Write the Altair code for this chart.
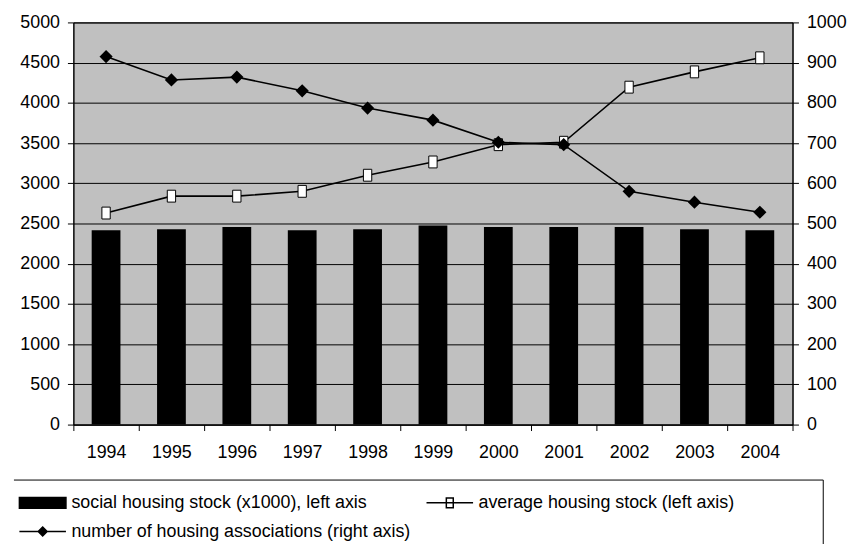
import altair as alt
import pandas as pd

# ---- data ----
years = ["1994", "1995", "1996", "1997", "1998", "1999", "2000", "2001", "2002", "2003", "2004"]
social_stock = [2415, 2430, 2455, 2415, 2430, 2475, 2455, 2455, 2455, 2430, 2415]
avg_stock = [2630, 2840, 2840, 2900, 3100, 3265, 3480, 3510, 4195, 4385, 4560]
num_assoc = [915, 857, 864, 830, 787, 757, 702, 696, 580, 553, 528]

series_names = [
    "social housing stock (x1000), left axis",
    "average housing stock (left axis)",
    "number of housing associations (right axis)",
]
left_ticks = list(range(0, 5001, 500))
right_ticks = list(range(0, 1001, 100))

df = pd.DataFrame({"year": years, "social": social_stock, "avg": avg_stock, "num": num_assoc})
legend_df = pd.DataFrame({"year": years[:3], "v": [0, 0, 0], "series": series_names})
box_df = pd.DataFrame({"k": [0]})

FONT = "Liberation Sans"

# legend symbols (custom paths)
legend_paths = [
    "M-2.35,-0.55H2.35V0.55H-2.35Z",
    "M-2.35,0H2.35M-0.35,-0.5H0.35V0.5H-0.35Z",
    "M-2.35,0H2.35M0,-0.45L0.45,0L0,0.45L-0.45,0Z",
]
legend_fills = ["black", "white", "black"]
legend_strokes = ["black", "black", "black"]

x_enc = alt.X(
    "year:N",
    sort=years,
    scale=alt.Scale(paddingInner=0, paddingOuter=0),
    axis=alt.Axis(title=None, labelAngle=0, tickBand="extent", labelPadding=13),
)

left_scale = alt.Scale(domain=[0, 5000], nice=False)
left_axis = alt.Axis(title=None, values=left_ticks, format="d", grid=True, gridColor="black",
                     gridWidth=1, labelPadding=8)
right_scale = alt.Scale(domain=[0, 1000], nice=False)
right_axis = alt.Axis(title=None, values=right_ticks, format="d", grid=False, orient="right",
                      labelPadding=8)

bars = alt.Chart(df).mark_bar(color="black", width=alt.RelativeBandSize(0.44)).encode(
    x=x_enc,
    y=alt.Y("social:Q", scale=left_scale, axis=left_axis),
)

avg_line = alt.Chart(df).mark_line(color="black", strokeWidth=1.6).encode(
    x=x_enc,
    y=alt.Y("avg:Q", scale=left_scale, axis=left_axis),
)
avg_pts = alt.Chart(df).mark_point(
    shape="M-0.7,-1H0.7V1H-0.7Z", size=144, filled=True, fill="white", stroke="black",
    strokeWidth=1, opacity=1,
).encode(
    x=x_enc,
    y=alt.Y("avg:Q", scale=left_scale, axis=left_axis),
)

legend_cfg = dict(
    orient="none", legendX=-42, legendY=474, direction="horizontal", columns=2,
    columnPadding=12, rowPadding=9, labelFont=FONT, labelFontSize=18, labelColor="black",
    labelLimit=700, labelOffset=18, symbolSize=400, symbolStrokeColor="black",
    symbolStrokeWidth=1.5, symbolOpacity=1,
)
legend_layer = alt.Chart(legend_df).mark_point(filled=True, opacity=0).encode(
    x=x_enc,
    y=alt.Y("v:Q", scale=left_scale, axis=left_axis),
    shape=alt.Shape("series:N", title=None,
                    scale=alt.Scale(domain=series_names, range=legend_paths),
                    legend=alt.Legend(**legend_cfg)),
    fill=alt.Fill("series:N", title=None,
                  scale=alt.Scale(domain=series_names, range=legend_fills),
                  legend=alt.Legend(**legend_cfg)),
    stroke=alt.Stroke("series:N", title=None,
                      scale=alt.Scale(domain=series_names, range=legend_strokes),
                      legend=alt.Legend(**legend_cfg)),
)

box_top = alt.Chart(box_df).mark_rule(color="black", strokeWidth=1).encode(
    x=alt.value(-60), x2=alt.value(757), y=alt.value(462)
)
box_right = alt.Chart(box_df).mark_rule(color="black", strokeWidth=1).encode(
    x=alt.value(757), y=alt.value(462), y2=alt.value(540)
)

left = alt.layer(bars, avg_line, avg_pts, legend_layer, box_top, box_right)

num_line = alt.Chart(df).mark_line(color="black", strokeWidth=1.6).encode(
    x=x_enc,
    y=alt.Y("num:Q", scale=right_scale, axis=right_axis),
)
num_pts = alt.Chart(df).mark_point(
    shape="diamond", size=110, filled=True, fill="black", stroke="black", opacity=1,
).encode(
    x=x_enc,
    y=alt.Y("num:Q", scale=right_scale, axis=right_axis),
)
right = alt.layer(num_line, num_pts)

chart = alt.layer(left, right).resolve_scale(y="independent").properties(
    width=726,
    height=406,
    autosize=alt.AutoSizeParams(type="none"),
    padding={"left": 66, "top": 12, "right": 56, "bottom": 118},
    background="white",
).configure_view(
    fill="#C0C0C0", stroke="black", strokeWidth=1
).configure_axis(
    labelFont=FONT, labelFontSize=18, labelColor="black", domainColor="black",
    tickColor="black", tickSize=6, domainWidth=1, tickWidth=1,
)

chart.save("out.html", embed_options={"renderer": "svg", "actions": False})
